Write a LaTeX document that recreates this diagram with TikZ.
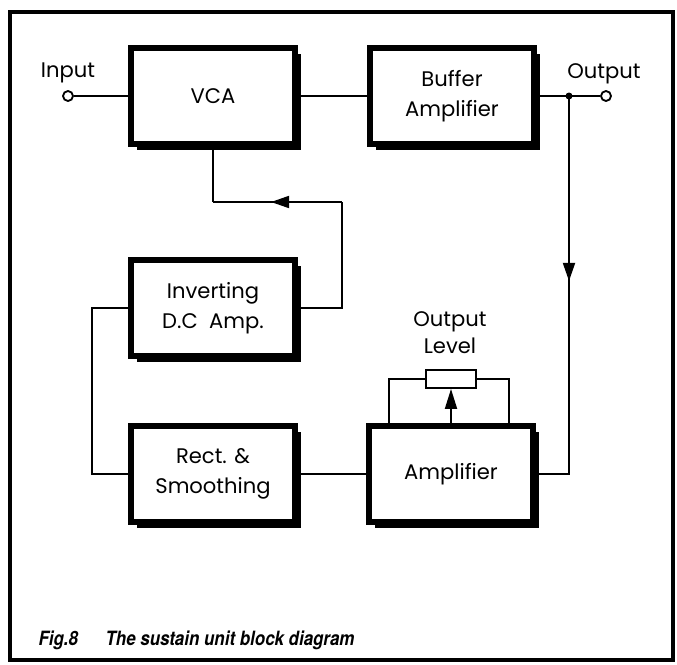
\documentclass[tikz,border=0pt]{standalone}
\usepackage{fontspec}
\setmainfont{Poppins}
\newfontfamily\capfont{TeX Gyre Heros}[FakeStretch=0.86]
\usetikzlibrary{arrows.meta,shadows,decorations.markings}

\tikzset{
  blockbox/.style={draw,line width=4.2pt,fill=white,minimum width=4.1cm,minimum height=2.4cm,
    align=center,font=\fontsize{15}{21}\selectfont,
    general shadow={fill=black,shadow xshift=0.16cm,shadow yshift=-0.15cm}},
  terminal/.style={draw,circle,line width=1.3pt,fill=white,minimum size=0.25cm,inner sep=0pt},
  potbox/.style={draw,line width=1.3pt,minimum width=1.25cm,minimum height=0.45cm,inner sep=0pt},
  lbl/.style={font=\fontsize{15}{19}\selectfont,align=center},
  caption/.style={font=\capfont\bfseries\itshape\fontsize{14}{16}\selectfont,anchor=base west},
  arrowmid/.style 2 args={postaction={decorate},decoration={markings,
    mark=at position #1 with {\arrow{Triangle[length=0.45cm,width=0.3cm]}}}},
}

\begin{document}
\begin{tikzpicture}[x=0.025cm,y=-0.025cm,line width=1.3pt,>=Stealth]
\useasboundingbox (0,0) rectangle (677,664);
% ---------- frame ----------
\draw[line width=2.6pt] (10,12) rectangle (673,660);
% ---------- blocks ----------
\node[blockbox] (vca) at (213,96) {VCA};
\node[blockbox] (buf) at (452,96) {Buffer\\Amplifier};
\node[blockbox] (inv) at (213,308) {Inverting\\D.C\ \ Amp.};
\node[blockbox] (rect) at (213,474) {Rect. \&\\Smoothing};
\node[blockbox] (amp) at (451,474) {Amplifier};
% ---------- terminals ----------
\node[terminal] (in) at (68,96) {};
\node[lbl,anchor=base] (inlbl) at (68,77) {Input};
\node[terminal] (out) at (606,96) {};
\node[lbl,anchor=base] (outlbl) at (604,78) {Output};
\coordinate (jn) at (569,96);
% ---------- forward path ----------
\draw (in) -- (vca);
\draw (vca) -- (buf);
\draw (buf.east) -- (jn) -- (out);
\fill (jn) circle (3.5);
\draw[arrowmid={0.45}{}] (jn) |- (amp.east);
\draw (amp) -- (rect);
% ---------- control loop ----------
\draw (rect.west) -- ++(-36,0) |- (inv.west);
\coordinate (fb) at (342,202);
\draw (inv.east) -| (fb);
\draw[arrowmid={0.55}{}] (fb) -- (fb -| vca.south);
\draw (fb -| vca.south) -- (vca.south);
% ---------- output level pot ----------
\node[potbox] (pot) at (451,379) {};
\node[lbl] (potlbl) at (450,333) {Output\\Level};
\draw (pot.west) -| ([xshift=-1.55cm]amp.north);
\draw (pot.east) -| ([xshift=1.45cm]amp.north);
\draw[-{Triangle[length=0.5cm,width=0.3cm]}] (amp.north) -- (pot.south);
% ---------- caption ----------
\node[caption] (fignum) at (33,645) {Fig.8};
\node[caption] (figtitle) at (100,645) {The sustain unit block diagram};
\end{tikzpicture}
\end{document}
